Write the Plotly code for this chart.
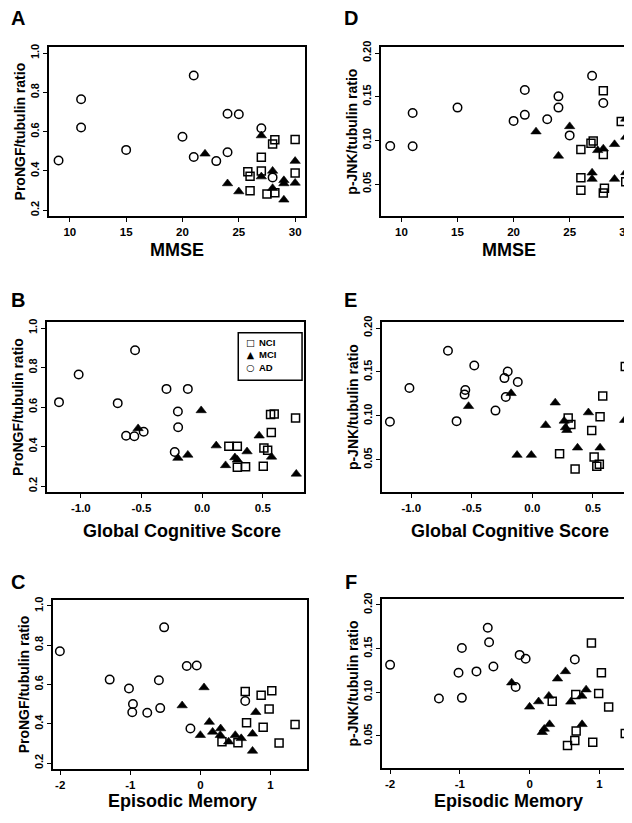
import plotly.graph_objects as go

# The page adds an 8 px body margin; figure coordinates below are page pixels minus 8.
OFF = 8
W, H = 632 - OFF, 823 - OFF

# ---------------- data ----------------
# Panel A: MMSE vs ProNGF/tubulin
a_nci_x = [25.8, 26, 26, 27, 27, 27.5, 28, 28.2, 28.2, 30, 30]
a_nci_y = [0.396, 0.373, 0.299, 0.470, 0.399, 0.282, 0.537, 0.559, 0.289, 0.560, 0.389]
a_mci_x = [22, 24, 25, 27, 27, 28, 28, 29, 29, 29, 30, 30]
a_mci_y = [0.487, 0.336, 0.295, 0.580, 0.371, 0.400, 0.312, 0.352, 0.336, 0.253, 0.450, 0.339]
a_ad_x = [9, 11, 11, 15, 20, 21, 21, 23, 24, 24, 25, 27, 28]
a_ad_y = [0.453, 0.765, 0.621, 0.507, 0.574, 0.886, 0.471, 0.450, 0.691, 0.495, 0.688, 0.617, 0.367]

# Panel D: MMSE vs p-JNK/tubulin
d_nci_x = [26, 26, 26, 26.9, 27.1, 28, 28, 28.1, 28, 29.6, 30]
d_nci_y = [0.0894, 0.0572, 0.0428, 0.0966, 0.0992, 0.0837, 0.0398, 0.0451, 0.1568, 0.1216, 0.0527]
d_mci_x = [22, 24, 25, 27, 27, 27.5, 28, 29, 29, 30, 30, 30]
d_mci_y = [0.110, 0.0822, 0.116, 0.0629, 0.0557, 0.0886, 0.0905, 0.0955, 0.0557, 0.1246, 0.1038, 0.0633]
d_ad_x = [9, 11, 11, 15, 20, 21, 21, 23, 24, 24, 25, 27, 28]
d_ad_y = [0.0936, 0.1314, 0.0932, 0.1375, 0.1223, 0.1576, 0.1292, 0.1242, 0.1504, 0.1375, 0.1057, 0.1739, 0.1428]

# Panel B: Global Cognitive Score vs ProNGF/tubulin
b_nci_x = [0.22, 0.29, 0.29, 0.358, 0.504, 0.509, 0.54, 0.564, 0.594, 0.57, 0.77]
b_nci_y = [0.402, 0.402, 0.295, 0.298, 0.300, 0.393, 0.382, 0.562, 0.565, 0.472, 0.545]
b_mci_x = [-0.528, -0.2, -0.118, -0.008, 0.116, 0.193, 0.27, 0.29, 0.37, 0.47, 0.572, 0.776]
b_mci_y = [0.492, 0.342, 0.358, 0.583, 0.405, 0.305, 0.345, 0.333, 0.375, 0.455, 0.348, 0.262]
b_ad_x = [-1.18, -1.018, -0.553, -0.696, -0.627, -0.559, -0.482, -0.294, -0.118, -0.2, -0.198, -0.226]
b_ad_y = [0.625, 0.765, 0.888, 0.620, 0.455, 0.452, 0.475, 0.692, 0.692, 0.578, 0.498, 0.373]

# Panel E: Global Cognitive Score vs p-JNK/tubulin
e_nci_x = [0.296, 0.318, 0.225, 0.353, 0.49, 0.51, 0.532, 0.553, 0.559, 0.581, 0.767]
e_nci_y = [0.0977, 0.0902, 0.0569, 0.0395, 0.0834, 0.0531, 0.0425, 0.0448, 0.0989, 0.1227, 0.1563]
e_mci_x = [-0.526, -0.175, -0.126, -0.008, 0.11, 0.189, 0.263, 0.274, 0.285, 0.373, 0.463, 0.559, 0.762]
e_mci_y = [0.111, 0.1257, 0.0554, 0.0554, 0.0894, 0.115, 0.0943, 0.0868, 0.0837, 0.0637, 0.1038, 0.0637, 0.0951]
e_ad_x = [-1.175, -1.014, -0.696, -0.479, -0.553, -0.559, -0.625, -0.304, -0.23, -0.203, -0.219, -0.12]
e_ad_y = [0.0932, 0.1317, 0.1741, 0.1574, 0.1295, 0.1242, 0.094, 0.106, 0.143, 0.1506, 0.1215, 0.1385]

# Panel C: Episodic Memory vs ProNGF/tubulin
c_nci_x = [0.64, 0.867, 1.019, 0.981, 0.896, 0.659, 1.123, 1.351, 0.308, 0.536]
c_nci_y = [0.565, 0.546, 0.568, 0.476, 0.382, 0.406, 0.302, 0.396, 0.309, 0.304]
c_mci_x = [-0.26, 0.052, 0.0, 0.128, 0.175, 0.289, 0.284, 0.403, 0.498, 0.583, 0.744, 0.791, 0.744]
c_mci_y = [0.493, 0.585, 0.342, 0.409, 0.359, 0.376, 0.342, 0.309, 0.342, 0.326, 0.349, 0.459, 0.262]
c_ad_x = [-2.005, -1.294, -1.019, -0.962, -0.972, -0.758, -0.592, -0.573, -0.517, -0.194, -0.052, -0.142, 0.64]
c_ad_y = [0.769, 0.625, 0.58, 0.501, 0.459, 0.456, 0.622, 0.48, 0.891, 0.694, 0.697, 0.376, 0.516]

# Panel F: Episodic Memory vs p-JNK/tubulin
f_nci_x = [0.886, 1.029, 0.99, 1.133, 0.662, 0.324, 0.667, 0.648, 0.543, 0.905, 1.371]
f_nci_y = [0.1564, 0.1223, 0.0985, 0.0830, 0.0973, 0.0898, 0.0557, 0.0447, 0.0390, 0.0428, 0.0527]
f_mci_x = [-0.257, 0.0, 0.129, 0.276, 0.4, 0.514, 0.59, 0.748, 0.81, 0.752, 0.286, 0.21, 0.181]
f_mci_y = [0.111, 0.0833, 0.0894, 0.0958, 0.1155, 0.1239, 0.089, 0.0958, 0.103, 0.0633, 0.0633, 0.058, 0.0542]
f_ad_x = [-2.0, -1.3, -1.019, -0.971, -0.971, -0.762, -0.6, -0.581, -0.519, -0.143, -0.057, -0.2, 0.648]
f_ad_y = [0.1314, 0.0928, 0.1223, 0.1508, 0.0936, 0.1239, 0.1739, 0.1572, 0.1295, 0.1428, 0.1383, 0.106, 0.1375]

groups = ["NCI", "MCI", "AD"]

# tick labels
mmse_ticks = [10, 15, 20, 25, 30]
mmse_text = ["10", "15", "20", "25", "30"]
gcs_ticks = [-1.0, -0.5, 0.0, 0.5]
gcs_text = ["-1.0", "-0.5", "0.0", "0.5"]
em_ticks = [-2, -1, 0, 1]
em_text = ["-2", "-1", "0", "1"]
prongf_ticks = [0.2, 0.4, 0.6, 0.8, 1.0]
prongf_text = ["0.2", "0.4", "0.6", "0.8", "1.0"]
jnk_ticks = [0.05, 0.10, 0.15, 0.20]
jnk_text = ["0.05", "0.10", "0.15", "0.20"]

# ---------------- layout helpers ----------------
FONT = "Arial, Liberation Sans, Helvetica, sans-serif"


def px_x(p):
    return (p - OFF) / W


def px_y(p):
    return 1 - (p - OFF) / H


# label, data, x-title, y-title, xticks, xtext, yticks, ytext, xrange, yrange,
# x-domain (page px), y-domain (page px), right side cut off, x-title centre (page px), letter pos
panels = [
    ("A", (a_nci_x, a_nci_y, a_mci_x, a_mci_y, a_ad_x, a_ad_y), "MMSE", "ProNGF/tubulin ratio",
     mmse_ticks, mmse_text, prongf_ticks, prongf_text, [8.14, 30.88], [0.168, 1.032],
     (49, 306), (41, 212), False, (178, 246), (18, 12)),
    ("D", (d_nci_x, d_nci_y, d_mci_x, d_mci_y, d_ad_x, d_ad_y), "MMSE", "p-JNK/tubulin ratio",
     mmse_ticks, mmse_text, jnk_ticks, jnk_text, [8.16, 30.38], [0.0128, 0.2072],
     (382, 632), (41, 212), True, (511, 246), (352, 12)),
    ("B", (b_nci_x, b_nci_y, b_mci_x, b_mci_y, b_ad_x, b_ad_y), "Global Cognitive Score", "ProNGF/tubulin ratio",
     gcs_ticks, gcs_text, prongf_ticks, prongf_text, [-1.28, 0.84], [0.168, 1.032],
     (47, 305), (318, 490), False, (183, 529), (18, 296)),
    ("E", (e_nci_x, e_nci_y, e_mci_x, e_mci_y, e_ad_x, e_ad_y), "Global Cognitive Score", "p-JNK/tubulin ratio",
     gcs_ticks, gcs_text, jnk_ticks, jnk_text, [-1.242, 0.806], [0.0128, 0.2072],
     (383, 632), (318, 490), True, (512, 529), (352, 296)),
    ("C", (c_nci_x, c_nci_y, c_mci_x, c_mci_y, c_ad_x, c_ad_y), "Episodic Memory", "ProNGF/tubulin ratio",
     em_ticks, em_text, prongf_ticks, prongf_text, [-2.105, 1.522], [0.168, 1.032],
     (53, 308), (598, 769), False, (183, 801), (18, 580)),
    ("F", (f_nci_x, f_nci_y, f_mci_x, f_mci_y, f_ad_x, f_ad_y), "Episodic Memory", "p-JNK/tubulin ratio",
     em_ticks, em_text, jnk_ticks, jnk_text, [-2.119, 1.439], [0.0128, 0.2072],
     (383, 632), (597, 768), True, (510, 801), (352, 580)),
]

marker_styles = {
    "NCI": dict(symbol="square-open", size=8, color="black", line=dict(color="black", width=1.5)),
    "MCI": dict(symbol="triangle-up", size=9, color="black", line=dict(color="black", width=0.6)),
    "AD": dict(symbol="circle-open", size=8.5, color="black", line=dict(color="black", width=1.5)),
}

fig = go.Figure()
annotations = []
layout_axes = {}

for i, (lab, data, xt, yt, xtv, xtt, ytv, ytt, xr, yr, xd, yd, cut, xtpos, lpos) in enumerate(panels):
    n = i + 1
    xa = "x" if n == 1 else f"x{n}"
    ya = "y" if n == 1 else f"y{n}"
    for g, (xs, ys) in zip(groups, [(data[0], data[1]), (data[2], data[3]), (data[4], data[5])]):
        fig.add_trace(go.Scatter(
            x=xs, y=ys, mode="markers", name=g, xaxis=xa, yaxis=ya,
            marker=marker_styles[g], showlegend=False, cliponaxis=True,
        ))
    xkey = "xaxis" if n == 1 else f"xaxis{n}"
    ykey = "yaxis" if n == 1 else f"yaxis{n}"
    layout_axes[xkey] = dict(
        domain=[px_x(xd[0]), px_x(xd[1])], range=xr, anchor=ya,
        showgrid=False, zeroline=False, showline=True, linecolor="black", linewidth=1.8,
        mirror=True, ticks="outside", ticklen=4, tickwidth=1, tickcolor="black",
        tickmode="array", tickvals=xtv, ticktext=xtt, ticklabeloverflow="allow",
        tickfont=dict(family=FONT, size=11.5, color="black", weight="bold"),
    )
    layout_axes[ykey] = dict(
        domain=[px_y(yd[1]), px_y(yd[0])], range=yr, anchor=xa,
        showgrid=False, zeroline=False, showline=True, linecolor="black", linewidth=1.8,
        mirror=not cut, ticks="outside", ticklen=4, tickwidth=1, tickcolor="black",
        tickmode="array", tickvals=ytv, ticktext=ytt, tickangle=-90,
        tickfont=dict(family=FONT, size=11, color="black", weight="bold"),
        title=dict(text=yt, font=dict(family=FONT, size=14, color="black", weight="bold"), standoff=0),
    )
    # x-axis title
    annotations.append(dict(
        text=f"<b>{xt}</b>", x=px_x(xtpos[0]), y=px_y(xtpos[1]), xref="paper", yref="paper",
        showarrow=False, xanchor="center", yanchor="middle",
        font=dict(family=FONT, size=18, color="black"),
    ))
    # panel letter
    annotations.append(dict(
        text=f"<b>{lab}</b>", x=px_x(lpos[0]), y=px_y(lpos[1]), xref="paper", yref="paper",
        showarrow=False, xanchor="center", yanchor="middle",
        font=dict(family=FONT, size=20, color="black"),
    ))

# compact legend drawn inside panel B, as in the reference
legend_syms = ["□", "▲", "○"]
annotations.append(dict(text="<br>".join(legend_syms), x=px_x(251), y=px_y(352), xref="paper", yref="paper",
                        showarrow=False, xanchor="center", yanchor="middle", align="center",
                        font=dict(family="DejaVu Sans", size=9.5, color="black")))
annotations.append(dict(text="<br>".join(f"<b>{g}</b>" for g in groups), x=px_x(258), y=px_y(352),
                        xref="paper", yref="paper", showarrow=False, xanchor="left", yanchor="middle",
                        align="left", font=dict(family=FONT, size=9.5, color="black")))

shapes = [dict(type="rect", xref="paper", yref="paper",
               x0=px_x(239), x1=px_x(303), y0=px_y(377), y1=px_y(329),
               line=dict(color="black", width=1.5), fillcolor="rgba(0,0,0,0)")]

fig.update_layout(
    width=W, height=H,
    margin=dict(l=0, r=0, t=0, b=0),
    paper_bgcolor="white", plot_bgcolor="white",
    showlegend=False,
    annotations=annotations,
    shapes=shapes,
    font=dict(family=FONT, color="black"),
    **layout_axes,
)

fig.write_html("out.html")
